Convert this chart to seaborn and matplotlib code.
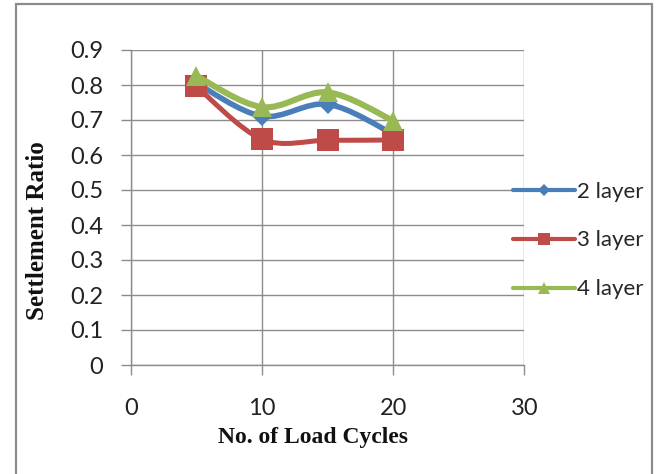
import matplotlib
matplotlib.use("Agg")
import matplotlib.pyplot as plt
import seaborn as sns
import numpy as np
import pandas as pd
from matplotlib.path import Path
from matplotlib.patches import PathPatch, Rectangle
from matplotlib.lines import Line2D

# ---- data ----
cycles = [5, 10, 15, 20]
layer2 = [0.805, 0.711, 0.745, 0.66]
layer3 = [0.796, 0.645, 0.642, 0.643]
layer4 = [0.826, 0.737, 0.779, 0.698]
series_names = ["2 layer", "3 layer", "4 layer"]
x_ticks = [0, 10, 20, 30]
y_ticks = [0, 0.1, 0.2, 0.3, 0.4, 0.5, 0.6, 0.7, 0.8, 0.9]

colors = ["#4A7EBB", "#BE4B48", "#98B954"]
markers = ["D", "s", "^"]
msizes = [10, 16, 15]
lwidths = [4.0, 3.6, 4.4]
leg_msizes = [6, 9, 8]

sns.set_theme(style="white")
plt.rcParams["font.family"] = ["Lato", "DejaVu Sans"]

fig = plt.figure(figsize=(6.58, 4.74), dpi=100)
ax = fig.add_axes([130.8 / 658, 109 / 474, (524.3 - 130.8) / 658, (365 - 50) / 474])

df = pd.DataFrame({"cycles": cycles, "2 layer": layer2, "3 layer": layer3, "4 layer": layer4})


def smooth_path(xs, ys):
    pts = np.column_stack([xs, ys]).astype(float)
    n = len(pts)
    verts = [pts[0]]
    codes = [Path.MOVETO]
    for i in range(n - 1):
        p0 = pts[i - 1] if i > 0 else pts[i]
        p1 = pts[i]
        p2 = pts[i + 1]
        p3 = pts[i + 2] if i + 2 < n else pts[i + 1]
        c1 = p1 + (p2 - p0) / 6.0
        c2 = p2 - (p3 - p1) / 6.0
        verts += [c1, c2, p2]
        codes += [Path.CURVE4] * 3
    return Path(verts, codes)


handles = []
for k, name in enumerate(series_names):
    path = smooth_path(df["cycles"], df[name])
    patch = PathPatch(path, facecolor="none", edgecolor=colors[k], lw=lwidths[k],
                      transform=ax.transData, zorder=3 + 2 * k, capstyle="round", joinstyle="round")
    ax.add_patch(patch)
    sns.lineplot(data=df, x="cycles", y=name, ax=ax, color=colors[k], linestyle="",
                 marker=markers[k], markersize=msizes[k], markeredgewidth=0, zorder=4 + 2 * k)
    handles.append(Line2D([0], [0], color=colors[k], lw=3, marker=markers[k],
                          markersize=leg_msizes[k], markeredgewidth=0))

ax.set_xlim(0, 30)
ax.set_ylim(0, 0.9)
ax.set_xticks(x_ticks)
ax.set_yticks(y_ticks)
ax.set_xticklabels([str(v) for v in x_ticks])
ax.set_yticklabels(["0" if v == 0 else f"{v:.1f}" for v in y_ticks])

grid_c = "#8C8C8C"
ax.grid(True, color=grid_c, lw=1)
ax.set_axisbelow(True)
for s in ["top", "right"]:
    ax.spines[s].set_visible(False)
for s in ["left", "bottom"]:
    ax.spines[s].set_color(grid_c)
    ax.spines[s].set_linewidth(1)
ax.tick_params(axis="both", direction="out", length=7, width=1, color=grid_c,
               labelsize=17, labelcolor="#222222", left=True, bottom=True)
ax.tick_params(axis="y", pad=13)
ax.tick_params(axis="x", pad=17)

ax.set_xlabel("No. of Load Cycles", family=["Liberation Serif"], weight="bold", fontsize=17,
              color="#111111", va="center")
ax.set_ylabel("Settlement Ratio", family=["Liberation Serif"], weight="bold", fontsize=18,
              color="#111111", va="center")
ax.xaxis.set_label_coords((313 - 130.8) / 393.5, (365 - 438) / 315)
ax.yaxis.set_label_coords((37 - 130.8) / 393.5, (365 - 231) / 315)

fig.legend(handles, series_names, loc="center left", bbox_to_anchor=(513 / 658, (474 - 240.5) / 474),
           frameon=False, fontsize=16, handlelength=2.8, handletextpad=0.1, labelspacing=1.3,
           borderpad=0, borderaxespad=0)

fig.patches.append(Rectangle((16 / 658, -0.05), (652 - 16) / 658, (474 - 4) / 474 + 0.05,
                             transform=fig.transFigure, fill=False, edgecolor="#8C8C8C", lw=1.6))

fig.savefig("out.png", dpi=100)
